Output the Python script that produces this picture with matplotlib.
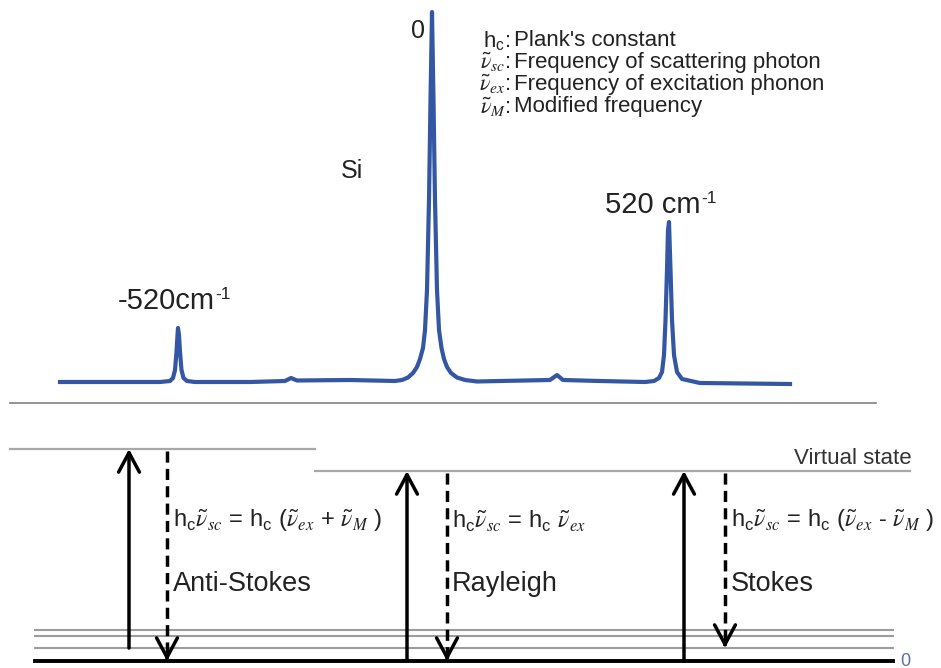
import matplotlib.pyplot as plt

plt.rcParams['font.family'] = ['Liberation Sans', 'DejaVu Sans']
plt.rcParams['mathtext.fontset'] = 'custom'
plt.rcParams['mathtext.rm'] = 'Liberation Sans'
plt.rcParams['mathtext.it'] = 'STIXGeneral:italic'
plt.rcParams['mathtext.bf'] = 'Liberation Sans:bold'

# Si Raman spectrum trace (picture columns / rows)
spec_x = [60, 120, 160, 170, 173, 175, 176.5, 177.5, 178, 179, 180, 181.5, 183.5, 187, 195,
          250, 285, 291, 297, 350, 395, 402, 408, 413, 417, 420, 423, 425, 427, 429, 430.5, 432,
          433.5, 435, 437, 439, 441.5, 444, 447, 451, 457, 465, 477, 500, 550, 557, 563, 600, 645,
          654, 659, 662, 664, 665.5, 667, 668, 669, 670.5, 672, 674, 677, 682, 700, 790]
spec_y = [382, 382, 382, 381, 378, 370, 352, 335, 328, 335, 352, 370, 378, 381, 382,
          382, 381, 378, 380.5, 380, 381, 380, 377.5, 373, 367, 359, 348, 330, 290, 200, 100, 12,
          100, 200, 290, 330, 348, 359, 367, 373, 377.5, 380, 381.5, 381, 380, 375, 380, 381, 382,
          381, 378, 372, 355, 320, 270, 230, 222, 270, 320, 355, 372, 379, 383, 384]

# energy levels (rows)
ground_y = 661
vib_levels = [630, 636, 648]
virtual_as = 449
virtual_rs = 471

# legend rows
legend_syms = [r'h$_\mathregular{c}$:', r'$\tilde{\nu}_{sc}$:', r'$\tilde{\nu}_{ex}$:', r'$\tilde{\nu}_{M}$:']
legend_desc = ["Plank's constant", 'Frequency of scattering photon',
               'Frequency of excitation phonon', 'Modified frequency']

labels = ['Anti-Stokes', 'Rayleigh', 'Stokes']
equations = [
    r'h$_\mathregular{c}$$\tilde{\nu}_{sc}$ = h$_\mathregular{c}$ ($\tilde{\nu}_{ex}$ + $\tilde{\nu}_{M}$ )',
    r'h$_\mathregular{c}$$\tilde{\nu}_{sc}$ = h$_\mathregular{c}$ $\tilde{\nu}_{ex}$',
    r'h$_\mathregular{c}$$\tilde{\nu}_{sc}$ = h$_\mathregular{c}$ ($\tilde{\nu}_{ex}$ - $\tilde{\nu}_{M}$ )',
]
up_x = [129, 407, 684]
up_from = [648, 661, 661]
up_to = [449, 471, 471]
down_x = [167, 447, 725]
down_from = [451, 473, 473]
down_to = [661, 661, 648]
text_x = [173, 452, 731]

fig = plt.figure(figsize=(9.41, 6.68), dpi=100)
ax = fig.add_axes([0, 0, 1, 1])
ax.set_xlim(0, 941)
ax.set_ylim(668, 0)
ax.axis('off')

# spectrum
ax.plot(spec_x, spec_y, color='#3457a3', lw=3.0, solid_joinstyle='round')
ax.text(418, 31, '0', fontsize=18, ha='center', va='center', color='#222222')
ax.text(352, 171, 'Si', fontsize=18, ha='center', va='center', color='#222222')


def peak_label(x, y, s):
    t = ax.text(x, y, s, fontsize=21, ha='left', va='center', color='#222222')
    ax.annotate('-1', xy=(1.0, 1.0), xycoords=t, xytext=(0.5, 0), textcoords='offset points',
                fontsize=12.5, ha='left', va='top', color='#222222')


peak_label(118, 301, '-520cm')
peak_label(605, 205, '520 cm')

for i, (s, d) in enumerate(zip(legend_syms, legend_desc)):
    yy = 40 + i * 22.3
    ax.text(511, yy, s, fontsize=16, ha='right', va='center', color='#222222')
    ax.text(514, yy, d, fontsize=16, ha='left', va='center', color='#222222')

# divider
ax.plot([10, 876], [403, 403], color='#8a8a8a', lw=1.3)

# energy levels
ax.plot([10, 315], [virtual_as, virtual_as], color='#a8a8a8', lw=1.6)
ax.plot([315, 910], [virtual_rs, virtual_rs], color='#a8a8a8', lw=1.6)
ax.text(912, 458, 'Virtual state', fontsize=16, ha='right', va='center', color='#333333')
for lv in vib_levels:
    ax.plot([35, 893], [lv, lv], color='#9c9c9c', lw=1.5)
ax.plot([35, 893], [ground_y, ground_y], color='black', lw=2.8)
ax.text(905, 661, '0', fontsize=13, ha='center', va='center', color='#5a6fa0')

head = '->,head_length=1.4,head_width=0.75'
for i in range(3):
    ax.annotate('', xy=(up_x[i], up_to[i]), xytext=(up_x[i], up_from[i]),
                arrowprops=dict(arrowstyle=head, lw=2.5, color='black',
                                shrinkA=0, shrinkB=0))
    ax.plot([down_x[i], down_x[i]], [down_from[i], down_to[i] - 3],
            color='black', lw=2.5, ls=(0, (3.2, 1.8)))
    ax.annotate('', xy=(down_x[i], down_to[i]), xytext=(down_x[i], down_to[i] - 6),
                arrowprops=dict(arrowstyle=head, lw=2.5, color='black',
                                shrinkA=0, shrinkB=0))
    ax.text(text_x[i], 521, equations[i], fontsize=17, ha='left', va='center', color='#222222')
    ax.text(text_x[i], 584, labels[i], fontsize=19.5, ha='left', va='center', color='#222222')

fig.savefig('out.png', dpi=100)
